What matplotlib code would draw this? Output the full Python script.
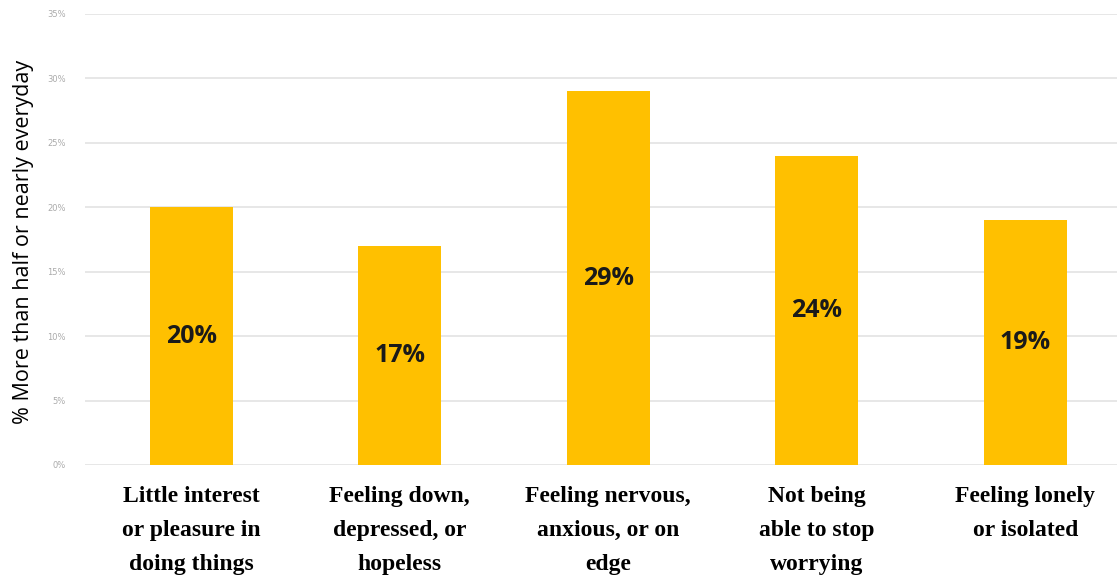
import numpy as np
import matplotlib.pyplot as plt

categories = [
    "Little interest\nor pleasure in\ndoing things",
    "Feeling down,\ndepressed, or\nhopeless",
    "Feeling nervous,\nanxious, or on\nedge",
    "Not being\nable to stop\nworrying",
    "Feeling lonely\nor isolated",
]
values = [20, 17, 29, 24, 19]
yticks = [0, 5, 10, 15, 20, 25, 30, 35]

fig = plt.figure(figsize=(11.17, 5.79), dpi=100)
ax = fig.add_axes([0.076, 0.197, 0.924, 0.779])

x = np.arange(len(categories))
ax.bar(x, values, width=0.4, color="#FFC000", zorder=2)

for xi, v in zip(x, values):
    ax.text(xi, v / 2, f"{v}%", ha="center", va="center",
            fontsize=18, fontweight="bold", color="#1a1a1a",
            family="Open Sans", zorder=3)

ax.set_ylim(0, 35)
ax.set_xlim(-0.51, 4.44)
ax.set_yticks(yticks)
ax.set_yticklabels([f"{t}%" for t in yticks], fontsize=6, color="#aaaaaa")
ax.yaxis.grid(True, color="#e3e3e3", linewidth=1.2, zorder=0)
ax.set_axisbelow(True)

ax.set_xticks(x)
ax.set_xticklabels(categories, fontsize=17, fontweight="bold",
                   family="Liberation Serif", linespacing=1.82)
ax.tick_params(axis="both", length=0)
ax.tick_params(axis="y", pad=14)
ax.tick_params(axis="x", pad=15)

for s in ax.spines.values():
    s.set_visible(False)

ax.set_ylabel("% More than half or nearly everyday", fontsize=15.5,
              color="#000000", family="Open Sans")
ax.yaxis.set_label_coords(-0.049, 0.494)

fig.savefig("out.png", dpi=100)
